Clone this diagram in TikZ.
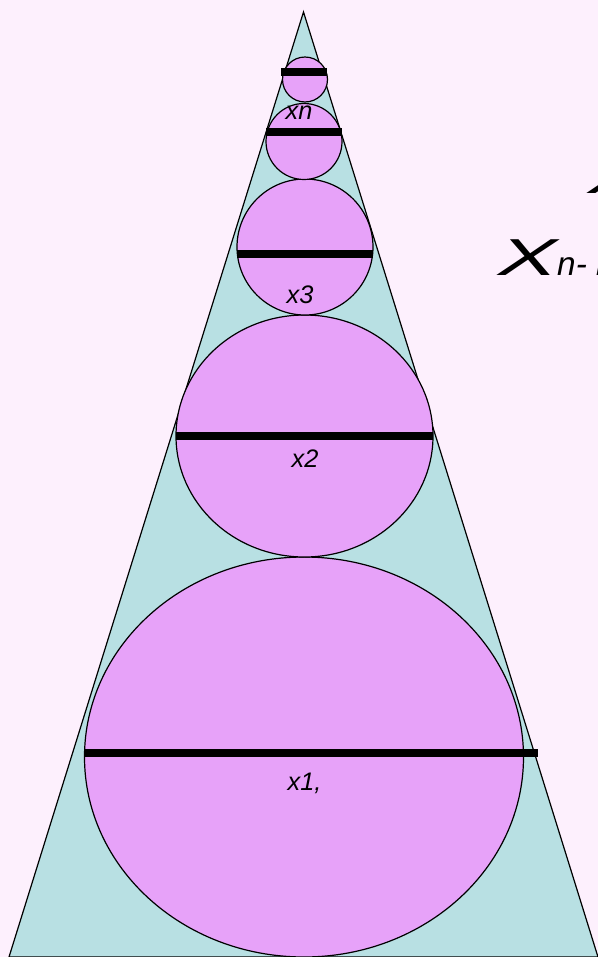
\documentclass[tikz,border=0pt]{standalone}
\usepackage{fontspec}
\setmainfont{Liberation Sans}
\definecolor{bg}{RGB}{253,240,253}
\definecolor{tri}{RGB}{184,224,227}
\definecolor{ball}{RGB}{231,162,249}
\begin{document}
\begin{tikzpicture}[x=0.75pt,y=-0.75pt,
  outline/.style={draw=black,line width=0.9pt},
  ballstyle/.style={outline,fill=ball},
  barline/.style={draw=black,line width=5.4pt},
  lab/.style={inner sep=0pt,anchor=base,font=\fontsize{19}{22}\selectfont\itshape},
  bigtxt/.style={inner sep=0pt,anchor=base west,font=\fontsize{39}{45}\selectfont\itshape}]
\useasboundingbox (0,0) rectangle (598,957);
\fill[bg] (0,0) rectangle (598,957);
% cone
\coordinate (apex) at (303.5,12);
\coordinate (bl) at (9,957);
\coordinate (br) at (598,957);
\draw[outline,fill=tri] (apex) -- (bl) -- (br) -- cycle;
% balls
\draw[ballstyle] (304,757) ellipse [x radius=219.5, y radius=200];
\draw[ballstyle] (304.5,436) ellipse [x radius=128.5, y radius=121];
\draw[ballstyle] (305,247) circle [radius=68];
\draw[ballstyle] (304,141.5) circle [radius=38];
\draw[ballstyle] (305,79.5) circle [radius=22.5];
% diameters
\coordinate (d1l) at (85,753);  \coordinate (d1r) at (538,753);
\coordinate (d2l) at (176,436); \coordinate (d2r) at (433,436);
\coordinate (d3l) at (237,254); \coordinate (d3r) at (373,254);
\coordinate (d4l) at (266,132); \coordinate (d4r) at (342,132);
\coordinate (d5l) at (281,72);  \coordinate (d5r) at (327,72);
\draw[barline,line width=6pt] (d1l) -- (d1r);
\draw[barline] (d2l) -- (d2r);
\draw[barline] (d3l) -- (d3r);
\draw[barline] (d4l) -- (d4r);
\draw[barline,line width=6.5pt] (d5l) -- (d5r);
% labels
\node[lab] (l1) at (304.5,790) {x1,};
\node[lab] (l2) at (305,467) {x2};
\node[lab] (l3) at (300,303) {x3};
\node[lab] (ln) at (299,119) {xn};
% right text (cut off at the edge, as in the reference)
\node[bigtxt] (t1) at (588,193) {\scalebox{1.7}[1]{X}};
\node[bigtxt] (t2) at (498,275) {\scalebox{1.7}[1]{X}{\fontsize{25}{30}\selectfont n- п}};
\end{tikzpicture}
\end{document}
